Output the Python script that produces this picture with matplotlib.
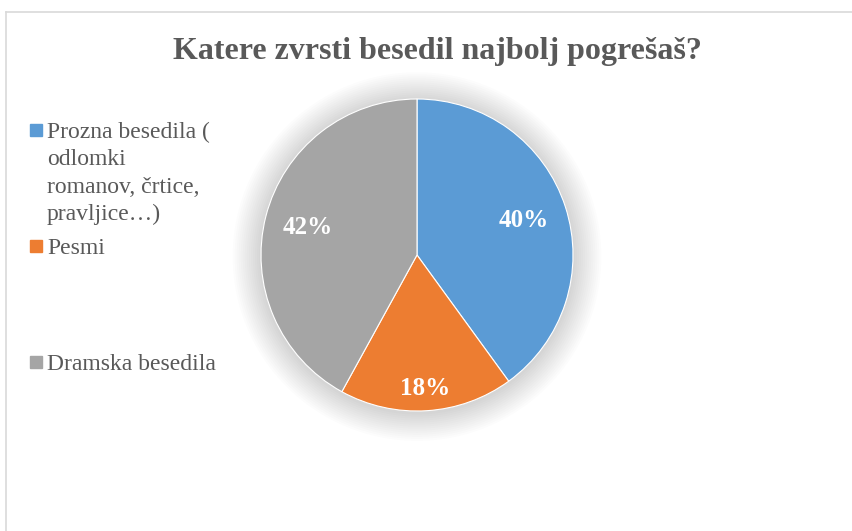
import matplotlib.pyplot as plt
import matplotlib.patches as mpatches
import matplotlib.lines as mlines
import numpy as np

plt.rcParams['font.family'] = ['Liberation Serif', 'DejaVu Serif']

title = 'Katere zvrsti besedil najbolj pogrešaš?'
labels = ['Prozna besedila (\nodlomki\nromanov, črtice,\npravljice…)',
          'Pesmi',
          'Dramska besedila']
values = [40, 18, 42]
colors = ['#5B9BD5', '#ED7D31', '#A5A5A5']
label_dist = [0.72, 0.86, 0.72]

W, H = 853, 531
fig = plt.figure(figsize=(W / 100, H / 100), dpi=100)

# chart border (only top and left visible in the crop)
fig.add_artist(mlines.Line2D([6 / W, 6 / W], [0, 1 - 11.5 / H], color='#D9D9D9', lw=1.2))
fig.add_artist(mlines.Line2D([6 / W, 1], [1 - 11.5 / H, 1 - 11.5 / H], color='#D9D9D9', lw=1.2))

fig.text(437 / W, 1 - 51 / H, title, ha='center', va='center',
         fontsize=23, fontweight='bold', color='#595959')

# pie axes
cx, cy, r = 417, 255, 156
ax = fig.add_axes([(cx - r) / W, 1 - (cy + r) / H, 2 * r / W, 2 * r / H])

# soft shadow
for k in range(14):
    rr = 1.0 + 0.013 * (k + 1)
    ax.add_patch(mpatches.Circle((0.0, -0.01), rr, color='black', alpha=0.011,
                                 lw=0, clip_on=False, zorder=0))

wedges, _ = ax.pie(values, colors=colors, startangle=90, counterclock=False,
                   wedgeprops=dict(linewidth=0.8, edgecolor='white'))
for w in wedges:
    w.set_zorder(2)
ax.set_xlim(-1, 1)
ax.set_ylim(-1, 1)
ax.set_aspect('equal')
ax.axis('off')

total = sum(values)
for w, v, d in zip(wedges, values, label_dist):
    ang = np.deg2rad((w.theta1 + w.theta2) / 2)
    ax.text(d * np.cos(ang), d * np.sin(ang), f'{round(100 * v / total)}%',
            ha='center', va='center', fontsize=18, fontweight='bold',
            color='white', zorder=3)

# legend, Excel-style evenly spaced slots
slot = 116
for i, (lab, col) in enumerate(zip(labels, colors)):
    top = 124 + i * slot
    fig.add_artist(mpatches.Rectangle((30 / W, 1 - (top + 12) / H), 12 / W, 12 / H,
                                      color=col, transform=fig.transFigure))
    fig.text(47 / W, 1 - (top - 2) / H, lab, ha='left', va='top',
             fontsize=17, color='#595959', linespacing=1.39)

fig.savefig('out.png', dpi=100)
